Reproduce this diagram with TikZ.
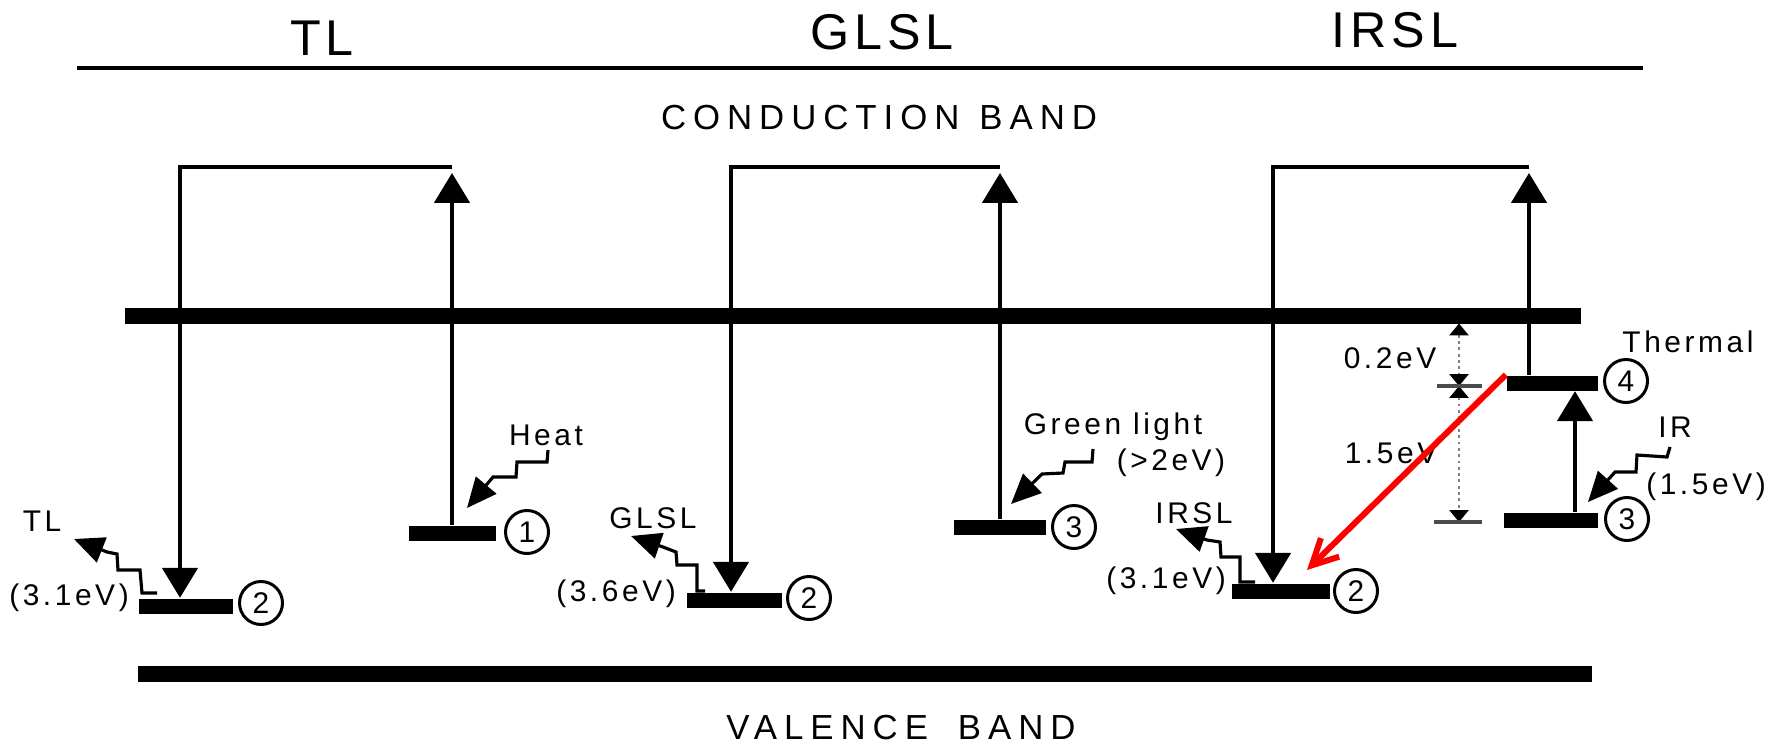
\documentclass[tikz,border=0pt]{standalone}
\usepackage{fontspec}
\setmainfont{Liberation Sans}
\usetikzlibrary{arrows.meta}
\tikzset{
  headtxt/.style={inner sep=0pt, font=\fontsize{14.3}{16}\selectfont\addfontfeature{LetterSpace=10}},
  bandtxt/.style={inner sep=0pt, font=\fontsize{9.9}{11}\selectfont\addfontfeature{LetterSpace=20}},
  lbl/.style={inner sep=0pt, font=\fontsize{8.5}{9}\selectfont\addfontfeature{LetterSpace=12}},
  bandline/.style={line width=4.3pt},
  lvl/.style={fill=black, inner sep=0pt, minimum height=1.5mm},
  lvnum/.style={circle, draw, line width=0.85pt, inner sep=0pt, minimum size=4.3mm, font=\fontsize{8.5}{9}\selectfont},
  jump/.style={line width=1.1pt, -{Triangle[length=8.5pt,width=10pt]}},
  photon/.style={line width=0.9pt, -{Triangle[length=8.5pt,width=7.5pt]}},
  gapline/.style={gray, densely dotted, line width=0.8pt, {Triangle[length=3.4pt,width=5.4pt,black]}-{Triangle[length=3.4pt,width=5.4pt,black]}},
  gaptick/.style={line width=1pt, black!70},
}
\begin{document}
\begin{tikzpicture}[x=0.1mm,y=-0.1mm]
    \useasboundingbox (0,0) rectangle (1777,744);

    \node[headtxt] (ttl) at (322,38) {TL};
    \node[headtxt] (tgl) at (882,32) {GLSL};
    \node[headtxt] (tir) at (1395,30) {IRSL};
    \draw[line width=1pt] (77,68) -- (1643,68);

    \node[bandtxt] (cbt) at (879,118) {CONDUCTION\hspace{2mm}BAND};
    \node[bandtxt] (vbt) at (901,728) {VALENCE\hspace{3mm}BAND};
    \draw[bandline] (125,316) -- (1581,316);
    \draw[bandline] (138,674) -- (1592,674);

    % TL
    \node[lvl, minimum width=9.4mm] (tl2) at (186,606) {};
    \node[lvnum] (tl2n) at (261,603) {2};
    \node[lvl, minimum width=8.7mm] (tl1) at (452,533) {};
    \node[lvnum] (tl1n) at (527,532) {1};
    \coordinate (tlL) at (180,167);
    \coordinate (tlR) at (452,167);
    \draw[jump] (tl1.north) -- ([yshift=-0.6mm]tlR);
    \draw[jump] (tlR) -- (tlL) -- (tlL |- tl2.north);
    \node[lbl] (heat) at (546,435) {Heat};
    \draw[photon] (548,450) -- (547,462) -- (517,462) -- (516,477) -- (493,477) -- (467,508);
    \node[lbl] (tlout) at (42,521) {TL};
    \node[lbl] (tlev) at (69,598) {(3.1eV)};
    \draw[photon] (157,593) -- (142,593) -- (140,570) -- (118,570) -- (117,554) -- (107,552) -- (74,539);

    % GLSL
    \node[lvl, minimum width=9.5mm] (gl2) at (734,600) {};
    \node[lvnum] (gl2n) at (809,598) {2};
    \node[lvl, minimum width=9.2mm] (gl3) at (1000,527) {};
    \node[lvnum] (gl3n) at (1074,527) {3};
    \coordinate (glL) at (731,167);
    \coordinate (glR) at (1000,167);
    \draw[jump] (gl3.north) -- ([yshift=-0.6mm]glR);
    \draw[jump] (glR) -- (glL) -- (glL |- gl2.north);
    \node[lbl] (green) at (1113,427) {Green light};
    \node[lbl] (greenev) at (1171,463) {(>2eV)};
    \draw[photon] (1093,449) -- (1092,462) -- (1065,462) -- (1063,473) -- (1042,474) -- (1011,504);
    \node[lbl] (glout) at (653,518) {GLSL};
    \node[lbl] (glev) at (616,594) {(3.6eV)};
    \draw[photon] (705,591) -- (697,591) -- (697,565) -- (677,565) -- (676,552) -- (663,547) -- (631,536);

    % IRSL
    \node[lvl, minimum width=9.8mm] (ir2) at (1281,591) {};
    \node[lvnum] (ir2n) at (1356,591) {2};
    \node[lvl, minimum width=9.1mm] (ir4) at (1552,383) {};
    \node[lvnum] (ir4n) at (1626,381) {4};
    \node[lvl, minimum width=9.4mm] (ir3) at (1551,520) {};
    \node[lvnum] (ir3n) at (1627,519) {3};
    \coordinate (irL) at (1273,167);
    \coordinate (irR) at (1529,167);
    \coordinate (irx) at (1575,450);
    \draw[jump] (irR |- ir4.north) -- ([yshift=-0.6mm]irR);
    \draw[jump] (irR) -- (irL) -- (irL |- ir2.north);
    \draw[jump] (irx |- ir3.north) -- (irx |- ir4.south);
    \node[lbl] (therm) at (1688,342) {Thermal};
    \node[lbl] (irin) at (1675,427) {IR};
    \node[lbl] (irinev) at (1706,487) {(1.5eV)};
    \draw[photon] (1670,447) -- (1667,457) -- (1637,455) -- (1636,472) -- (1615,472) -- (1588,502);
    \node[lbl] (irout) at (1194,513) {IRSL};
    \node[lbl] (irev) at (1166,581) {(3.1eV)};
    \draw[photon] (1255,582) -- (1240,582) -- (1240,557) -- (1221,557) -- (1220,542) -- (1207,540) -- (1176,529);

    \coordinate (dtop) at (1459,323.5);
    \coordinate (dmid) at (1459,386);
    \coordinate (dbot) at (1459,522);
    \draw[gapline] (dtop) -- (dmid);
    \draw[gapline] (dmid) -- (dbot);
    \draw[gaptick] (1437,386) -- (1482,386);
    \draw[gaptick] (1434,522) -- (1482,522);
    \node[lbl] (ev02) at (1390,358) {0.2eV};
    \node[lbl] (ev15) at (1391,453) {1.5eV};

    \coordinate (redtip) at (1307,570);
    \draw[red, line width=1.7pt, -{Straight Barb[length=7.3pt,width=7.4pt]}] (ir4.north west) -- (redtip);
\end{tikzpicture}
\end{document}
